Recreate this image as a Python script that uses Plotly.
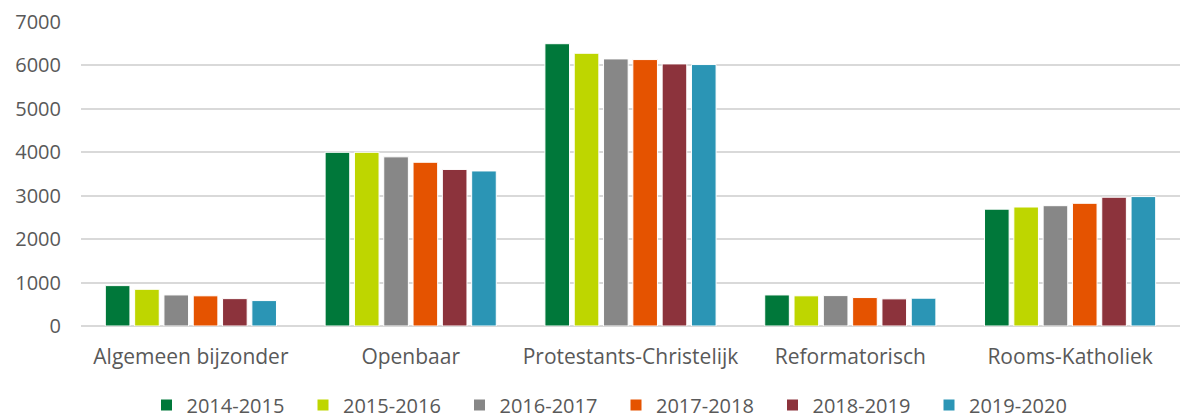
import plotly.graph_objects as go

categories = ["Algemeen bijzonder", "Openbaar", "Protestants-Christelijk", "Reformatorisch", "Rooms-Katholiek"]
years = ["2014-2015", "2015-2016", "2016-2017", "2017-2018", "2018-2019", "2019-2020"]
v_2014_2015 = [930, 4000, 6500, 715, 2690]
v_2015_2016 = [845, 4000, 6280, 695, 2740]
v_2016_2017 = [715, 3895, 6150, 700, 2770]
v_2017_2018 = [695, 3770, 6135, 655, 2825]
v_2018_2019 = [630, 3605, 6035, 625, 2965]
v_2019_2020 = [585, 3570, 6020, 640, 2980]
series = [v_2014_2015, v_2015_2016, v_2016_2017, v_2017_2018, v_2018_2019, v_2019_2020]
colors = ["#00783A", "#BED600", "#878787", "#E55300", "#8C333C", "#2B95B5"]

fig = go.Figure()
for name, vals, col in zip(years, series, colors):
    fig.add_trace(go.Bar(x=categories, y=vals, name=name,
                         marker=dict(color=col, line=dict(color="white", width=1))))

fig.update_layout(
    width=1180, height=412,
    margin=dict(l=73, r=8, t=14, b=94, autoexpand=False),
    paper_bgcolor="white", plot_bgcolor="white",
    barmode="group", bargap=0.2, bargroupgap=0.16,
    font=dict(family="Open Sans", size=20, color="#595959"),
    showlegend=True,
    legend=dict(orientation="h", x=0.5 + 18 / 1180, xanchor="center", xref="container",
                y=15 / 412, yanchor="middle", yref="container",
                font=dict(family="Open Sans", size=20, color="#595959"),
                itemwidth=30, entrywidth=111.5, tracegroupgap=0),
)
fig.update_yaxes(range=[0, 7000], dtick=1000,
                 showgrid=True, gridcolor="#D9D9D9", gridwidth=1.5,
                 zeroline=True, zerolinecolor="#D9D9D9", zerolinewidth=1.5, automargin=False,
                 ticks="", ticklabelstandoff=19, tickfont=dict(size=20, color="#595959"))
fig.update_xaxes(showline=False, ticks="", ticklabelstandoff=16, automargin=False,
                 tickfont=dict(size=21, color="#595959"))

fig.write_html("out.html")
